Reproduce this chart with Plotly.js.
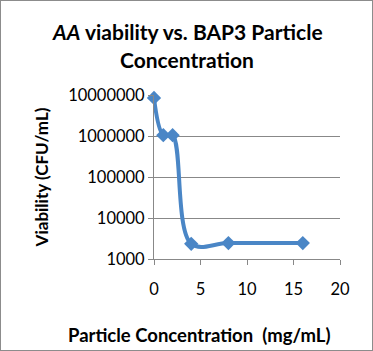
<!DOCTYPE html>
<html><head><meta charset="utf-8">
<script src="https://cdn.plot.ly/plotly-3.0.1.min.js"></script>
<style>
html,body{margin:0;padding:0;background:#fff;}
#wrap{position:relative;width:373px;height:351px;}
#chart{width:373px;height:351px;}
#border{position:absolute;left:0;top:0;width:371px;height:349px;border:1px solid #8c8c8c;pointer-events:none;}
</style>
</head><body>
<div id="wrap"><div id="chart"></div><div id="border"></div></div>
<script>
const concentration = [0, 1, 2, 4, 8, 16];
const viability = [8500000, 1050000, 1050000, 2350, 2450, 2450];
const yTickVals = [1000, 10000, 100000, 1000000, 10000000];
const yTickText = ["1000", "10000", "100000", "1000000", "10000000"];
const xTickVals = [0, 5, 10, 15, 20];
const titleLines = ['<i>AA</i> viability vs. BAP3 Particle', 'Concentration'];
const xTitle = 'Particle Concentration  (mg/mL)';
const yTitle = 'Viability (CFU/mL)';

const fam = "Lato, 'Open Sans', sans-serif";
const trace = {
  x: concentration, y: viability, type: 'scatter', mode: 'lines+markers',
  line: {color: '#4a86c6', width: 4, shape: 'spline', smoothing: 1},
  marker: {symbol: 'diamond', size: 11, color: '#4a86c6'},
  hoverinfo: 'none', cliponaxis: false
};
const layout = {
  width: 373, height: 351,
  margin: {l: 154, r: 33, t: 95, b: 92},
  paper_bgcolor: '#fff', plot_bgcolor: '#fff',
  showlegend: false,
  font: {family: fam, color: '#000'},
  annotations: [
    {text: '<b>' + titleLines[0] + '</b>', xref: 'paper', yref: 'paper', x: (187 - 154) / 186, y: 1 + 64/164,
     xanchor: 'center', yanchor: 'middle', showarrow: false, font: {family: fam, size: 21, color: '#000'}},
    {text: '<b>' + titleLines[1] + '</b>', xref: 'paper', yref: 'paper', x: (187 - 154) / 186, y: 1 + 36/164,
     xanchor: 'center', yanchor: 'middle', showarrow: false, font: {family: fam, size: 21, color: '#000'}},
    {text: '<b>' + xTitle + '</b>', xref: 'paper', yref: 'paper', x: (199 - 154) / 186, y: -(335 - 259) / 164,
     xanchor: 'center', yanchor: 'middle', showarrow: false, font: {family: fam, size: 18.5, color: '#000'}}
  ],
  xaxis: {range: [0, 20], tickvals: xTickVals, showgrid: false, zeroline: false,
          showline: true, linecolor: '#888', linewidth: 1,
          ticks: 'outside', ticklen: 5, tickcolor: '#888',
          ticklabelstandoff: 10,
          tickfont: {family: fam, size: 16.5, color: '#000'}},
  yaxis: {type: 'log', range: [3, 7], tickvals: yTickVals, ticktext: yTickText,
          showgrid: true, gridcolor: '#888', gridwidth: 1, zeroline: false,
          showline: true, linecolor: '#888', linewidth: 1,
          ticks: 'outside', ticklen: 5, tickcolor: '#888',
          tickfont: {family: fam, size: 16.5, color: '#000'},
          title: {text: '<b>' + yTitle + '</b>', font: {family: fam, size: 17, color: '#000'}, standoff: 15}}
};
Plotly.newPlot('chart', [trace], layout, {staticPlot: true});
</script>
</body></html>
